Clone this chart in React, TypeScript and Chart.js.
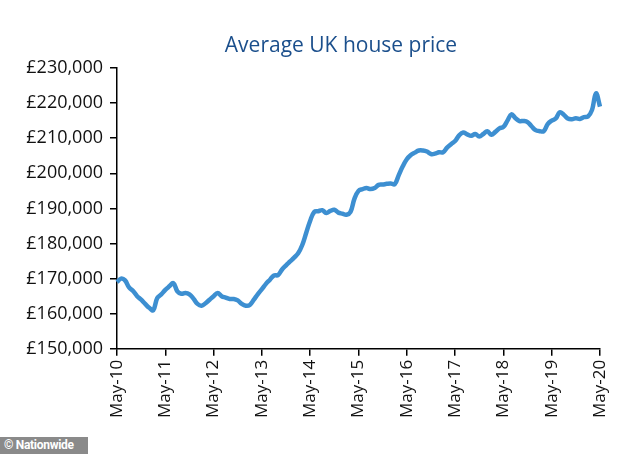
import React, { useEffect, useRef } from "react";
import { Chart, registerables } from "chart.js";

Chart.register(...registerables);

const yearTicks: string[] = [
  "May-10", "May-11", "May-12", "May-13", "May-14", "May-15",
  "May-16", "May-17", "May-18", "May-19", "May-20",
];

const monthNames: string[] = ["May", "Jun", "Jul", "Aug", "Sep", "Oct", "Nov", "Dec", "Jan", "Feb", "Mar", "Apr"];

// Average UK house price (£ thousands), monthly May-2010 .. May-2020
const prices2010: number[] = [169.0, 170.0, 169.5, 167.5, 166.5, 165.0, 164.0, 162.8, 161.7, 161.0, 164.5, 165.5];
const prices2011: number[] = [166.8, 167.8, 168.7, 166.4, 165.7, 165.9, 165.5, 164.3, 162.8, 162.3, 163.0, 164.0];
const prices2012: number[] = [165.0, 165.9, 165.0, 164.6, 164.2, 164.2, 163.8, 162.8, 162.3, 162.5, 164.0, 165.6];
const prices2013: number[] = [167.0, 168.5, 169.7, 170.9, 171.0, 172.6, 173.8, 174.9, 176.0, 177.2, 179.5, 183.0];
const prices2014: number[] = [186.5, 189.0, 189.2, 189.5, 188.7, 189.3, 189.6, 188.8, 188.5, 188.2, 189.0, 192.8];
const prices2015: number[] = [195.0, 195.5, 195.8, 195.5, 195.8, 196.7, 196.8, 197.0, 197.1, 196.9, 199.5, 202.0];
const prices2016: number[] = [204.0, 205.2, 205.9, 206.5, 206.5, 206.2, 205.5, 205.6, 206.0, 206.0, 207.3, 208.3];
const prices2017: number[] = [209.2, 210.8, 211.6, 211.1, 210.7, 211.2, 210.5, 211.2, 212.0, 211.0, 211.8, 212.8];
const prices2018: number[] = [213.2, 215.0, 216.8, 215.7, 214.9, 214.9, 214.6, 213.4, 212.3, 212.0, 212.0, 214.0];
const prices2019: number[] = [215.0, 215.6, 217.4, 216.7, 215.6, 215.4, 215.7, 215.5, 216.0, 216.2, 218.0, 222.8];
const prices2020: number[] = [219.0];

const allPrices: number[] = [
  ...prices2010, ...prices2011, ...prices2012, ...prices2013, ...prices2014,
  ...prices2015, ...prices2016, ...prices2017, ...prices2018, ...prices2019, ...prices2020,
].map((v) => v * 1000);

const labels: string[] = allPrices.map((_, i) => {
  const yr = 10 + Math.floor((i + 4) / 12);
  return `${monthNames[i % 12]}-${yr}`;
});

const FONT = "'Open Sans', 'Noto Sans', sans-serif";

export default function App() {
  const ref = useRef<HTMLCanvasElement | null>(null);

  useEffect(() => {
    document.body.style.margin = "0";
    if (!ref.current) return;
    const chart = new Chart(ref.current, {
      type: "line",
      data: {
        labels,
        datasets: [
          {
            data: allPrices,
            borderColor: "#3d8fd1",
            borderWidth: 4.5,
            pointRadius: 0,
            tension: 0.4,
            fill: false,
          },
        ],
      },
      options: {
        animation: false,
        responsive: true,
        maintainAspectRatio: false,
        layout: { padding: { top: 68, right: 34, bottom: 32, left: 0 } },
        plugins: {
          legend: { display: false },
          tooltip: { enabled: false },
          title: { display: false },
        },
        scales: {
          x: {
            type: "category",
            offset: false,
            border: { display: true, color: "#000", width: 1.5 },
            grid: { drawOnChartArea: false, drawTicks: true, tickLength: 7, color: "#000", lineWidth: 1.5 },
            ticks: {
              autoSkip: false,
              maxRotation: 90,
              minRotation: 90,
              padding: 4,
              color: "#111",
              font: { family: FONT, size: 17 },
              callback: (_v: any, i: number) => (i % 12 === 0 ? yearTicks[i / 12] : null),
            },
          },
          y: {
            min: 150000,
            max: 230000,
            border: { display: true, color: "#000", width: 1.5 },
            grid: { drawOnChartArea: false, drawTicks: true, tickLength: 7, color: "#000", lineWidth: 1.5 },
            afterFit: (s: any) => {
              s.width = 117;
            },
            ticks: {
              stepSize: 10000,
              padding: 7,
              color: "#111",
              font: { family: FONT, size: 18 },
              callback: (v: any) => "£" + Number(v).toLocaleString("en-GB"),
            },
          },
        },
      },
    });
    return () => chart.destroy();
  }, []);

  return (
    <div style={{ position: "absolute", left: 0, top: 0, width: 634, height: 454, background: "#fff" }}>
      <canvas ref={ref} />
      <div
        style={{
          position: "absolute",
          top: 30,
          left: 48,
          right: 0,
          textAlign: "center",
          fontFamily: FONT,
          fontSize: 21,
          fontWeight: 500,
          color: "#1b4f8c",
          whiteSpace: "nowrap",
        }}
      >
        Average UK house price
      </div>
      <div
        style={{
          position: "absolute",
          left: 0,
          top: 437,
          width: 88,
          height: 17,
          background: "#8a8a8a",
          color: "#fff",
          fontFamily: "Roboto, sans-serif",
          fontWeight: 700,
          fontSize: 12,
          lineHeight: "17px",
          paddingLeft: 4,
          boxSizing: "border-box",
          letterSpacing: -0.3,
          whiteSpace: "nowrap",
        }}
      >
        © Nationwide
      </div>
    </div>
  );
}
